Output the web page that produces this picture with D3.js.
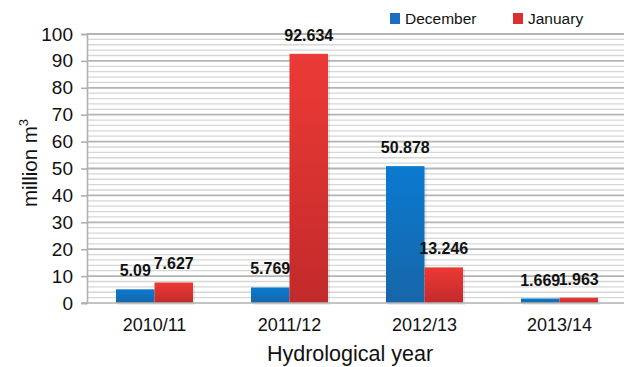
<!DOCTYPE html>
<html><head><meta charset="utf-8">
<script src="https://cdn.jsdelivr.net/npm/d3@7"></script>
<style>body{margin:0;background:#fff;}svg{display:block;font-family:"Liberation Sans",Arial,sans-serif;}</style>
</head><body><svg id="c" width="624" height="367"></svg>
<script>
const categories = ["2010/11","2011/12","2012/13","2013/14"];
const seriesNames = ["December","January"];
const december = [5.09, 5.769, 50.878, 1.669];
const january = [7.627, 92.634, 13.246, 1.963];
const labelsDec = ["5.09","5.769","50.878","1.669"];
const labelsJan = ["7.627","92.634","13.246","1.963"];
const yTicks = [0,10,20,30,40,50,60,70,80,90,100];

const svg = d3.select("#c");
const L = 87, R = 627, T = 34, B = 303;
const x = d3.scaleBand().domain(categories).range([L, R]).paddingInner(0).paddingOuter(0);
const y = d3.scaleLinear().domain([0,100]).range([B, T]);
const xs = d3.scaleBand().domain(seriesNames).range([0, x.bandwidth()]).paddingInner(0).paddingOuter(0.753);

const defs = svg.append("defs");
const gb = defs.append("linearGradient").attr("id","gBlue").attr("x1",0).attr("y1",0).attr("x2",0).attr("y2",1);
gb.append("stop").attr("offset","0%").attr("stop-color","#0a7ad0");
gb.append("stop").attr("offset","100%").attr("stop-color","#1766a8");
const gr = defs.append("linearGradient").attr("id","gRed").attr("x1",0).attr("y1",0).attr("x2",0).attr("y2",1);
gr.append("stop").attr("offset","0%").attr("stop-color","#ec3a36");
gr.append("stop").attr("offset","100%").attr("stop-color","#c22a2a");
const colors = {December:"url(#gBlue)", January:"url(#gRed)"};
const legendColors = {December:"#1a6fc0", January:"#d93030"};

// minor grid
const minor = d3.range(0, 101, 2).filter(v => v % 10 !== 0);
svg.append("g").selectAll("line").data(minor).join("line")
  .attr("x1", L).attr("x2", 624).attr("y1", d => y(d)).attr("y2", d => y(d))
  .attr("stroke", "#d6d6d6").attr("stroke-width", 1.3);
// major grid
svg.append("g").selectAll("line").data(yTicks.filter(v => v>0)).join("line")
  .attr("x1", L).attr("x2", 624).attr("y1", d => y(d)).attr("y2", d => y(d))
  .attr("stroke", "#b4b4b4").attr("stroke-width", 1.8);

// y axis
const yAxis = svg.append("g").attr("transform", `translate(${L},0)`)
  .call(d3.axisLeft(y).tickValues(yTicks).tickSize(6).tickPadding(8));
yAxis.select(".domain").attr("stroke","#b0b0b0").attr("stroke-width",1.6);
yAxis.selectAll(".tick line").attr("stroke","#b0b0b0").attr("stroke-width",1.6);
yAxis.selectAll(".tick text").attr("font-size","19px").attr("fill","#111").attr("font-family","Liberation Sans, Arial, sans-serif");

// bars
const data = categories.map((c,i) => ({cat:c, vals:[
  {s:"December", v:december[i], lab:labelsDec[i]},
  {s:"January", v:january[i], lab:labelsJan[i]}]}));

const groups = svg.append("g").selectAll("g").data(data).join("g")
  .attr("transform", d => `translate(${x(d.cat)},0)`);
groups.selectAll("rect.sh").data(d => d.vals).join("rect").attr("class","sh")
  .attr("x", d => xs(d.s)+2).attr("width", xs.bandwidth())
  .attr("y", d => y(d.v)+2).attr("height", d => B - y(d.v))
  .attr("fill", "#000").attr("opacity", 0.08);
groups.selectAll("rect.b").data(d => d.vals).join("rect").attr("class","b")
  .attr("x", d => xs(d.s)).attr("width", xs.bandwidth())
  .attr("y", d => y(d.v)).attr("height", d => B - y(d.v))
  .attr("fill", d => colors[d.s]);

// x axis
const xAxis = svg.append("g").attr("transform", `translate(0,${B})`)
  .call(d3.axisBottom(x).tickSize(0).tickPadding(15));
xAxis.select(".domain").attr("stroke","#b0b0b0").attr("stroke-width",1.6).attr("d", `M${L-6},0H624`);
xAxis.selectAll(".tick text").attr("font-size","18px").attr("fill","#111").attr("font-family","Liberation Sans, Arial, sans-serif");

// data labels
groups.selectAll("text.lab").data(d => d.vals).join("text").attr("class","lab")
  .attr("x", d => xs(d.s) + xs.bandwidth()/2)
  .attr("y", d => y(d.v) - 13)
  .attr("text-anchor", "middle")
  .attr("font-size", "16px").attr("font-weight", "bold").attr("fill", "#111")
  .text(d => d.lab);

// axis titles
svg.append("text").attr("x", 350).attr("y", 361).attr("text-anchor","middle")
  .attr("font-size","21.5px").attr("fill","#111").text("Hydrological year");
svg.append("text").attr("transform","translate(37,163) rotate(-90)").attr("text-anchor","middle")
  .attr("font-size","20.5px").attr("fill","#111")
  .html('million m<tspan dy="-9" font-size="13px">3</tspan>');

// legend
const leg = svg.append("g");
const legX = [390, 513];
seriesNames.forEach((s,i) => {
  leg.append("rect").attr("x", legX[i]).attr("y", 13).attr("width", 10).attr("height", 11).attr("fill", legendColors[s]);
  leg.append("text").attr("x", legX[i]+15).attr("y", 24).attr("font-size","15.5px").attr("fill","#111").text(s);
});
</script></body></html>
